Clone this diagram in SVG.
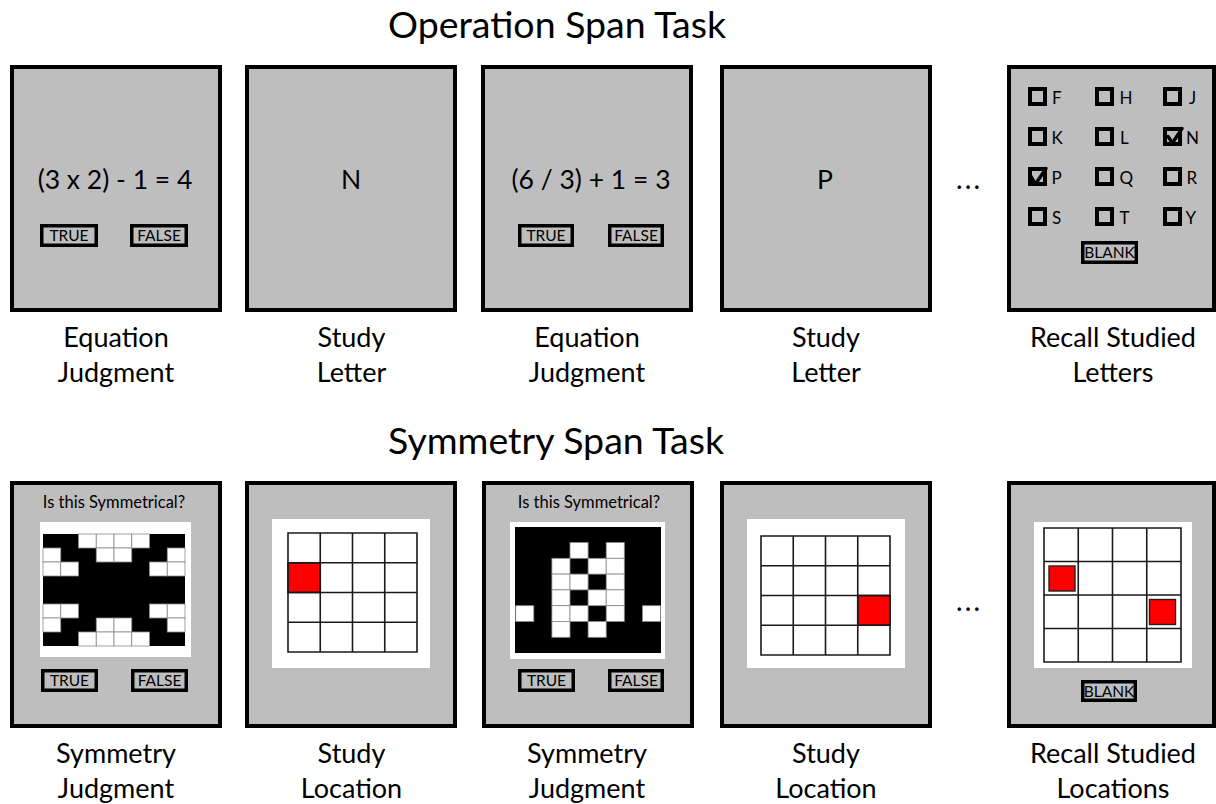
<svg xmlns="http://www.w3.org/2000/svg" width="1216" height="804" viewBox="0 0 1216 804">
<style>
.bg{fill:#fff}
.panel{fill:#bfbebf;stroke:#000;stroke-width:4}
.btn{fill:#bfbebf;stroke:#000;stroke-width:3.5}
.cb{fill:#bfbebf;stroke:#000;stroke-width:4}
.chk{fill:none;stroke:#000;stroke-width:3.4;stroke-linecap:round;stroke-linejoin:round}
.t{font-family:Lato,"Liberation Sans",sans-serif;fill:#000}
.title{font-size:37.5px;text-anchor:middle}
.lbl{font-size:27px;text-anchor:middle}
.eq{font-size:26.5px;text-anchor:middle}
.bt{font-size:15.5px;text-anchor:middle}
.ltr{font-size:17px}
.q{font-size:16.5px;text-anchor:middle}
.dots{font-size:28px;letter-spacing:2.2px}
.wbox{fill:#fff}
.blk{fill:#000}
.wc{fill:#fff;stroke:#8a8a8a;stroke-width:0.8}
.grid{fill:none;stroke:#1a1a1a;stroke-width:1.6}
.red{fill:#f00;stroke:#1a1a1a;stroke-width:1.6}
.redin{fill:#f00;stroke:#222;stroke-width:1.4}
</style>
<rect class="bg" x="0" y="0" width="1216" height="804"/>

<text class="t title" x="557" y="38">Operation Span Task</text>
<text class="t title" x="556" y="454">Symmetry Span Task</text>

<!-- Top row -->
<g id="op-eq1">
<rect class="panel" x="12" y="67" width="208" height="243"/>
<text class="t eq" x="115" y="189">(3 x 2) - 1 = 4</text>
<rect class="btn" x="41.75" y="225.75" width="54.5" height="19.5"/>
<text class="t bt" x="69" y="241">TRUE</text>
<rect class="btn" x="131.75" y="225.75" width="54.5" height="19.5"/>
<text class="t bt" x="159" y="241">FALSE</text>
<text class="t lbl" x="116" y="347">Equation</text>
<text class="t lbl" x="116" y="382">Judgment</text>
</g>

<g id="op-study1">
<rect class="panel" x="247" y="67" width="208" height="243"/>
<text class="t eq" x="351" y="189">N</text>
<text class="t lbl" x="351.5" y="347">Study</text>
<text class="t lbl" x="351.5" y="382">Letter</text>
</g>

<g id="op-eq2">
<rect class="panel" x="483" y="67" width="208" height="243"/>
<text class="t eq" x="591" y="189">(6 / 3) + 1 = 3</text>
<rect class="btn" x="519.75" y="225.75" width="52.5" height="19.5"/>
<text class="t bt" x="546" y="241">TRUE</text>
<rect class="btn" x="609.75" y="225.75" width="52.5" height="19.5"/>
<text class="t bt" x="636" y="241">FALSE</text>
<text class="t lbl" x="587" y="347">Equation</text>
<text class="t lbl" x="587" y="382">Judgment</text>
</g>

<g id="op-study2">
<rect class="panel" x="722" y="67" width="208" height="243"/>
<text class="t eq" x="825" y="189">P</text>
<text class="t lbl" x="826" y="347">Study</text>
<text class="t lbl" x="826" y="382">Letter</text>
</g>

<g id="op-dots">
<text class="t dots" x="956" y="189">...</text>
</g>

<g id="op-recall">
<rect class="panel" x="1009" y="67" width="205" height="243"/>
<rect class="cb" x="1030" y="89" width="15" height="15"/><text class="t ltr" x="1052" y="104">F</text>
<rect class="cb" x="1097" y="89" width="15" height="15"/><text class="t ltr" x="1119.5" y="104">H</text>
<rect class="cb" x="1165" y="89" width="15" height="15"/><text class="t ltr" x="1189" y="104">J</text>
<rect class="cb" x="1030" y="129" width="15" height="15"/><text class="t ltr" x="1051.5" y="144">K</text>
<rect class="cb" x="1097" y="129" width="15" height="15"/><text class="t ltr" x="1120" y="144">L</text>
<rect class="cb" x="1165" y="129" width="15" height="15"/><text class="t ltr" x="1186" y="144">N</text>
<path class="chk" d="M1168 136.5 L1172.5 143 L1182 128.5"/>
<rect class="cb" x="1030" y="169" width="15" height="15"/><text class="t ltr" x="1051.5" y="184">P</text>
<path class="chk" d="M1031 176.5 L1035.5 184 L1046 168.5"/>
<rect class="cb" x="1097" y="169" width="15" height="15"/><text class="t ltr" x="1119.5" y="184">Q</text>
<rect class="cb" x="1165" y="169" width="15" height="15"/><text class="t ltr" x="1186.5" y="184">R</text>
<rect class="cb" x="1030" y="209" width="15" height="15"/><text class="t ltr" x="1052" y="224">S</text>
<rect class="cb" x="1097" y="209" width="15" height="15"/><text class="t ltr" x="1119.5" y="224">T</text>
<rect class="cb" x="1165" y="209" width="15" height="15"/><text class="t ltr" x="1185.5" y="224">Y</text>
<rect class="btn" x="1082.75" y="242.75" width="53.5" height="19.5"/>
<text class="t bt" x="1109.5" y="258">BLANK</text>
<text class="t lbl" x="1113" y="347">Recall Studied</text>
<text class="t lbl" x="1113" y="382">Letters</text>
</g>

<!-- Bottom row -->
<g id="sym-judg1">
<rect class="panel" x="12" y="483" width="208" height="243"/>
<text class="t q" x="114" y="508">Is this Symmetrical?</text>
<rect class="wbox" x="40" y="522" width="151" height="135"/>
<rect class="blk" x="43" y="534" width="142" height="112"/>
<rect class="wc" x="78.5" y="534" width="17.75" height="14"/>
<rect class="wc" x="96.25" y="534" width="17.75" height="14"/>
<rect class="wc" x="114" y="534" width="17.75" height="14"/>
<rect class="wc" x="131.75" y="534" width="17.75" height="14"/>
<rect class="wc" x="43" y="548" width="17.75" height="14"/>
<rect class="wc" x="96.25" y="548" width="17.75" height="14"/>
<rect class="wc" x="114" y="548" width="17.75" height="14"/>
<rect class="wc" x="167.25" y="548" width="17.75" height="14"/>
<rect class="wc" x="43" y="562" width="17.75" height="14"/>
<rect class="wc" x="60.75" y="562" width="17.75" height="14"/>
<rect class="wc" x="149.5" y="562" width="17.75" height="14"/>
<rect class="wc" x="167.25" y="562" width="17.75" height="14"/>
<rect class="wc" x="43" y="604" width="17.75" height="14"/>
<rect class="wc" x="60.75" y="604" width="17.75" height="14"/>
<rect class="wc" x="149.5" y="604" width="17.75" height="14"/>
<rect class="wc" x="167.25" y="604" width="17.75" height="14"/>
<rect class="wc" x="43" y="618" width="17.75" height="14"/>
<rect class="wc" x="96.25" y="618" width="17.75" height="14"/>
<rect class="wc" x="114" y="618" width="17.75" height="14"/>
<rect class="wc" x="167.25" y="618" width="17.75" height="14"/>
<rect class="wc" x="78.5" y="632" width="17.75" height="14"/>
<rect class="wc" x="96.25" y="632" width="17.75" height="14"/>
<rect class="wc" x="114" y="632" width="17.75" height="14"/>
<rect class="wc" x="131.75" y="632" width="17.75" height="14"/>
<rect class="btn" x="42.75" y="670.75" width="53.5" height="19.5"/>
<text class="t bt" x="69.5" y="686">TRUE</text>
<rect class="btn" x="132.75" y="670.75" width="53.5" height="19.5"/>
<text class="t bt" x="159.5" y="686">FALSE</text>
<text class="t lbl" x="116" y="763">Symmetry</text>
<text class="t lbl" x="116" y="798">Judgment</text>
</g>

<g id="sym-study1">
<rect class="panel" x="247" y="483" width="208" height="243"/>
<rect class="wbox" x="272" y="519" width="158" height="149"/>
<rect class="red" x="288" y="562.75" width="32.25" height="29.75"/>
<path class="grid" d="M288 533H417V652H288Z M320.25 533V652 M352.5 533V652 M384.75 533V652 M288 562.75H417 M288 592.5H417 M288 622.25H417"/>
<text class="t lbl" x="351.5" y="763">Study</text>
<text class="t lbl" x="351.5" y="798">Location</text>
</g>

<g id="sym-judg2">
<rect class="panel" x="484" y="483" width="208" height="243"/>
<text class="t q" x="589" y="508">Is this Symmetrical?</text>
<rect class="wbox" x="510" y="522" width="155" height="137"/>
<rect class="blk" x="515" y="527" width="146" height="126"/>
<rect class="wc" x="570" y="542.5" width="18.1" height="15.8"/>
<rect class="wc" x="606.2" y="542.5" width="18.1" height="15.8"/>
<rect class="wc" x="551.9" y="558.3" width="18.1" height="15.8"/>
<rect class="wc" x="588.1" y="558.3" width="18.1" height="15.8"/>
<rect class="wc" x="606.2" y="558.3" width="18.1" height="15.8"/>
<rect class="wc" x="551.9" y="574.1" width="18.1" height="15.8"/>
<rect class="wc" x="570" y="574.1" width="18.1" height="15.8"/>
<rect class="wc" x="606.2" y="574.1" width="18.1" height="15.8"/>
<rect class="wc" x="551.9" y="589.9" width="18.1" height="15.8"/>
<rect class="wc" x="588.1" y="589.9" width="18.1" height="15.8"/>
<rect class="wc" x="606.2" y="589.9" width="18.1" height="15.8"/>
<rect class="wc" x="515.7" y="605.7" width="18.1" height="15.8"/>
<rect class="wc" x="551.9" y="605.7" width="18.1" height="15.8"/>
<rect class="wc" x="570" y="605.7" width="18.1" height="15.8"/>
<rect class="wc" x="606.2" y="605.7" width="18.1" height="15.8"/>
<rect class="wc" x="642.4" y="605.7" width="18.1" height="15.8"/>
<rect class="wc" x="551.9" y="621.5" width="18.1" height="15.8"/>
<rect class="wc" x="588.1" y="621.5" width="18.1" height="15.8"/>
<rect class="btn" x="519.75" y="670.75" width="53.5" height="19.5"/>
<text class="t bt" x="546.5" y="686">TRUE</text>
<rect class="btn" x="609.75" y="670.75" width="52.5" height="19.5"/>
<text class="t bt" x="636" y="686">FALSE</text>
<text class="t lbl" x="587" y="763">Symmetry</text>
<text class="t lbl" x="587" y="798">Judgment</text>
</g>

<g id="sym-study2">
<rect class="panel" x="722" y="483" width="208" height="243"/>
<rect class="wbox" x="747" y="519" width="158" height="149"/>
<rect class="red" x="857.75" y="595.5" width="32.25" height="29.75"/>
<path class="grid" d="M761 536H890V655H761Z M793.25 536V655 M825.5 536V655 M857.75 536V655 M761 565.75H890 M761 595.5H890 M761 625.25H890"/>
<text class="t lbl" x="826" y="763">Study</text>
<text class="t lbl" x="826" y="798">Location</text>
</g>

<g id="sym-dots">
<text class="t dots" x="956" y="611">...</text>
</g>

<g id="sym-recall">
<rect class="panel" x="1009" y="483" width="205" height="243"/>
<rect class="wbox" x="1034" y="522" width="158" height="146"/>
<path class="grid" d="M1044 528H1181V662H1044Z M1078.25 528V662 M1112.5 528V662 M1146.75 528V662 M1044 561.5H1181 M1044 595H1181 M1044 628.5H1181"/>
<rect class="redin" x="1049" y="566" width="26" height="25"/>
<rect class="redin" x="1149.5" y="599.5" width="26" height="25"/>
<rect class="btn" x="1082.75" y="681.75" width="52.5" height="18.5"/>
<text class="t bt" x="1109" y="696.5">BLANK</text>
<text class="t lbl" x="1113" y="763">Recall Studied</text>
<text class="t lbl" x="1113" y="798">Locations</text>
</g>
</svg>
